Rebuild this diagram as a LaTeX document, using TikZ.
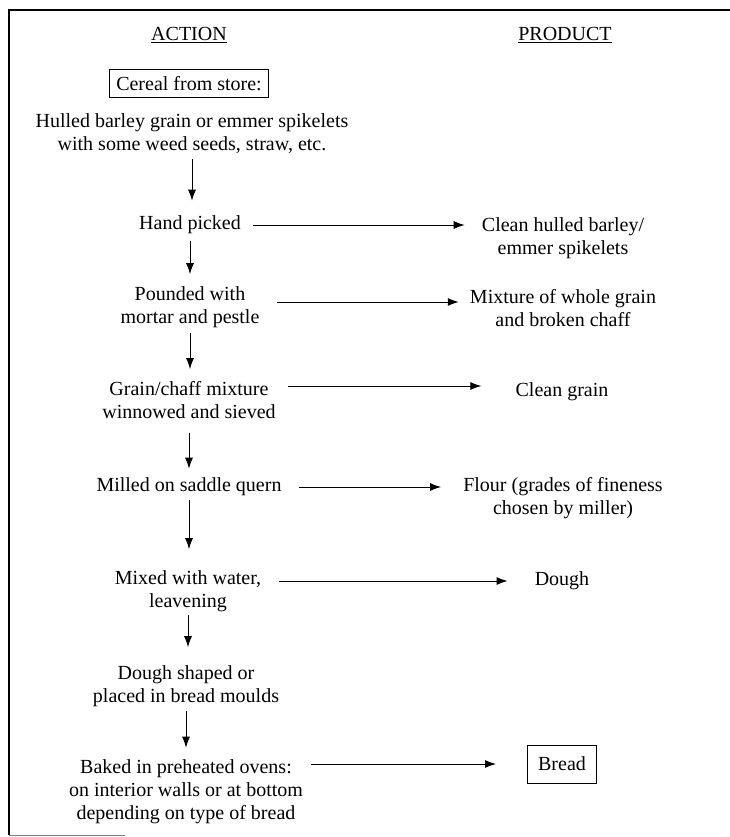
\documentclass[tikz,border=0pt]{standalone}
\usepackage{fontspec}
\setmainfont{Liberation Serif}
\usetikzlibrary{arrows.meta}
\tikzset{flow/.style = {-{Latex[length=11pt,width=8pt]}, line width=1pt},
         txt/.style = {align=center, inner sep=0pt, font=\fontsize{20}{23}\selectfont},
         boxed/.style = {txt, draw, line width=0.9pt}}

\begin{document}
\begin{tikzpicture}[x=1pt, y=-1pt]
    \useasboundingbox (0, 0) rectangle (730, 837);
    \draw [line width=1.6pt] (730, 10) -- (9, 10) -- (9, 835);
    \draw [line width=1pt, gray] (9, 835) -- (125, 835);

    \node (action) at (189, 35) [txt] {\underline{ACTION}};
    \node (product) at (565, 35) [txt] {\underline{PRODUCT}};

    \node (store) at (189, 83.5) [boxed, inner xsep=6.5pt, inner ysep=6.6pt] {Cereal from store:};
    \node (hulled) at (192, 134) [txt] {Hulled barley grain or emmer spikelets\\with some weed seeds, straw, etc.};
    \node (hand) at (190, 225) [txt] {Hand picked};
    \node (pounded) at (190, 307) [txt] {Pounded with\\mortar and pestle};
    \node (grain) at (189, 400) [txt] {Grain/chaff mixture\\winnowed and sieved};
    \node (milled) at (189, 487) [txt] {Milled on saddle quern};
    \node (mixed) at (188, 591) [txt] {Mixed with water,\\leavening};
    \node (shaped) at (186, 686) [txt] {Dough shaped or\\placed in bread moulds};
    \node (baked) at (186, 792) [txt] {Baked in preheated ovens:\\on interior walls or at bottom\\depending on type of bread};

    \node (clean) at (563, 238) [txt] {Clean hulled barley/\\emmer spikelets};
    \node (mixture) at (563, 308) [txt] {Mixture of whole grain\\and broken chaff};
    \node (cleangrain) at (562, 392) [txt] {Clean grain};
    \node (flour) at (563, 498) [txt] {Flour (grades of fineness\\chosen by miller)};
    \node (dough) at (562, 581) [txt] {Dough};
    \node (bread) at (562, 764) [boxed, minimum width=69pt, minimum height=38pt] {Bread};

    % steps down the action column
    \draw [flow, shorten <=5pt, shorten >=15pt] (hulled.south) -- (hulled.south |- hand.north);
    \draw [flow, shorten <=7pt, shorten >=12pt] (hand.south) -- (hand.south |- pounded.north);
    \draw [flow, shorten <=5pt, shorten >=12pt] (pounded.south) -- (pounded.south |- grain.north);
    \draw [flow, shorten <=14pt, shorten >=9pt] (grain.south) -- (grain.south |- milled.north);
    \draw [flow, shorten <=4pt, shorten >=21pt] (milled.south) -- (milled.south |- mixed.north);
    \draw [flow, shorten <=3pt, shorten >=18pt] (mixed.south) -- (mixed.south |- shaped.north);
    \draw [flow, shorten <=4pt, shorten >=12pt] (shaped.south) -- (shaped.south |- baked.north);

    % across to the products
    \coordinate (poundedout) at ([yshift=5pt]pounded.east);
    \coordinate (grainout) at ([yshift=14pt]grain.east);
    \draw [flow, shorten <=12pt, shorten >=17pt] (hand.east) -- (hand.east -| clean.west);
    \draw [flow, shorten <=17pt, shorten >=11pt] (poundedout) -- (poundedout -| mixture.west);
    \draw [flow, shorten <=12pt, shorten >=34pt] (grainout) -- (grainout -| cleangrain.west);
    \draw [flow, shorten <=17pt, shorten >=22pt] (milled.east) -- (milled.east -| flour.west);
    \draw [flow, shorten <=18pt, shorten >=27pt] (dough.west -| mixed.east) -- (dough.west);
    \draw [flow, shorten <=8pt, shorten >=31pt] (bread.west -| baked.east) -- (bread.west);
\end{tikzpicture}
\end{document}
